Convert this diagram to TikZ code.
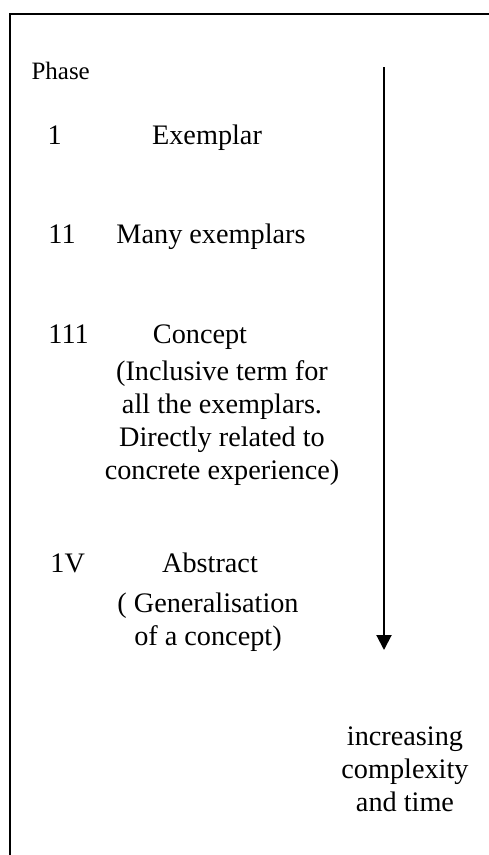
\documentclass[tikz,border=0pt]{standalone}
\usepackage{fontspec}
\setmainfont{Liberation Serif}
\usetikzlibrary{arrows.meta}
\begin{document}
\begin{tikzpicture}[
    x=0.4pt, y=-0.4pt,
    lbl/.style={inner sep=0pt, anchor=base, align=center,
                font=\fontsize{11.3}{13.2}\selectfont},
    num/.style={inner sep=0pt, anchor=base west,
                font=\fontsize{11.3}{13.2}\selectfont},
    arr/.style={-{Triangle[length=6pt,width=6pt]}, line width=0.8pt}
  ]
    \useasboundingbox (0,0) rectangle (488,855);
    \draw[line width=0.6pt] (10,860) -- (10,14) -- (495,14);

    \node[inner sep=0pt, anchor=base west, font=\fontsize{10}{12}\selectfont]
          (phase) at (31,79) {Phase};

    \node[num] (n1) at (47,144) {1};
    \node[lbl] (exemplar) at (207,144) {Exemplar};

    \node[num] (n2) at (48,243) {11};
    \node[lbl] (many) at (211,243) {Many exemplars};

    \node[num] (n3) at (48,343) {111};
    \node[lbl] (concept) at (200,343) {Concept};
    \node[lbl, anchor=north] (conceptdesc) at (222,360)
          {(Inclusive term for\\ all the exemplars.\\ Directly related to\\ concrete experience)};

    \node[num] (n4) at (50,572) {1V};
    \node[lbl] (abstract) at (210,572) {Abstract};
    \node[lbl, anchor=north] (abstractdesc) at (208,592)
          {( Generalisation\\ of a concept)};

    \coordinate (top) at (384,67);
    \coordinate (bottom) at (384,650);
    \draw[arr] (top) -- (bottom);

    \node[lbl, anchor=north] (increase) at (405,726)
          {increasing\\ complexity\\ and time};
\end{tikzpicture}
\end{document}
